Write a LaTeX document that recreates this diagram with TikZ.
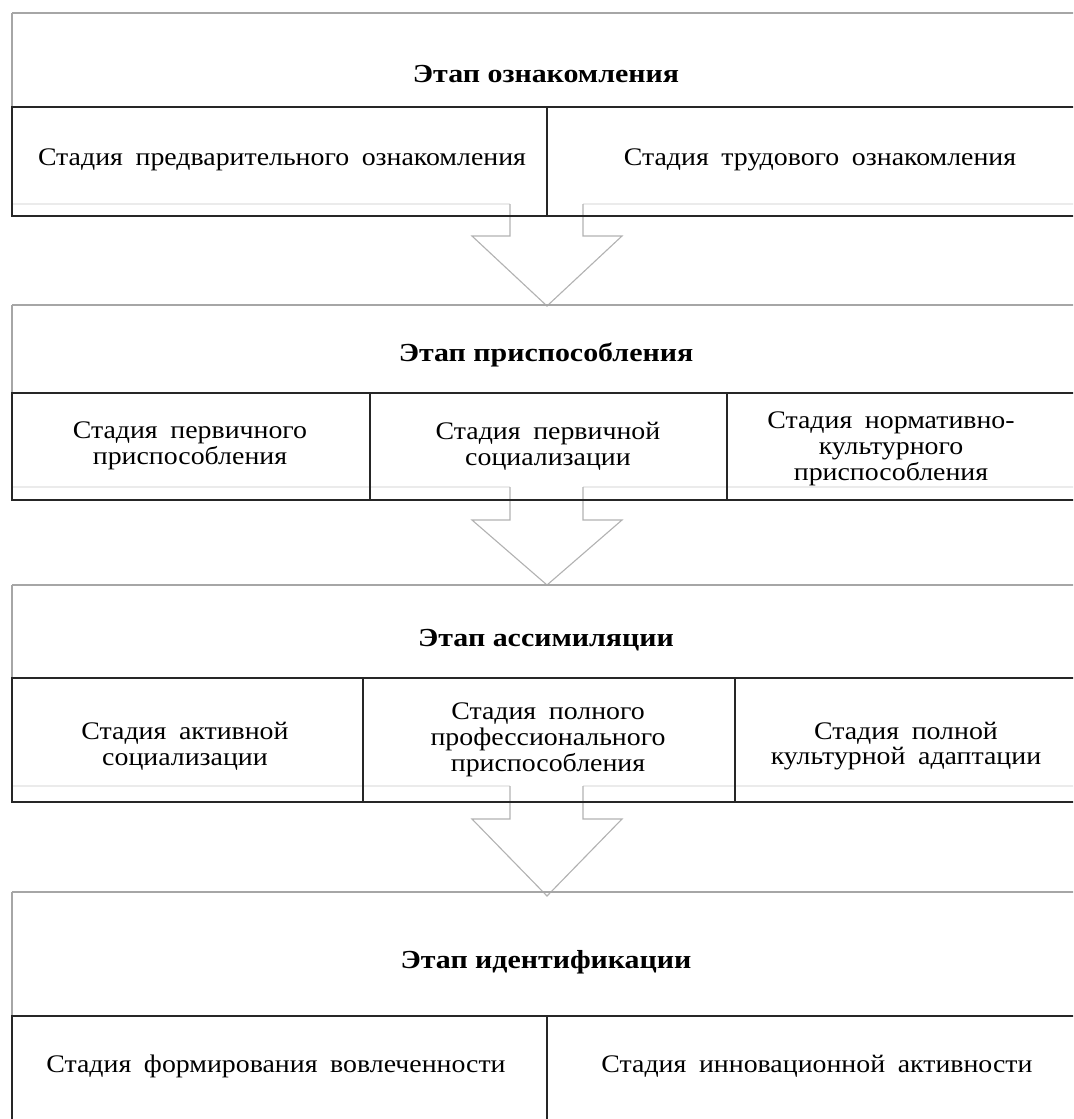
\documentclass[tikz,border=0pt]{standalone}
\usepackage{fontspec}
\setmainfont{Liberation Serif}
\newfontfamily\stagefont{Liberation Serif}[FakeStretch=1.1]
\newfontfamily\phasefont{Liberation Serif}[FakeStretch=1.15]
\usetikzlibrary{positioning}

\newcommand\wgap{\hspace{0.5em}}

\begin{document}
\begin{tikzpicture}[x=0.025cm, y=-0.025cm,
    stagetext/.style={font=\stagefont\fontsize{18}{18.4}\selectfont, align=center, inner sep=0pt},
    phasetext/.style={font=\phasefont\fontsize{18.5}{18.4}\selectfont\bfseries, inner sep=0pt},
    cellrule/.style={black!85, line width=1.3pt},
    toprule/.style={black!35, line width=1.3pt},
    faintrule/.style={black!8, line width=0.8pt},
    blockarrow/.style={black!30, line width=0.8pt, line join=miter}]
    \useasboundingbox (0,0) rectangle (1073,1119);

    \begin{scope}
    \clip (0,0) rectangle (1073,1119);

    % faint frame lines and block arrows between the phases
    \foreach \f/\w/\t in {204/236/306, 487/520/585, 786/819/896} {
        \draw[faintrule] (12,\f) -- (510,\f) (583,\f) -- (1090,\f);
        \draw[blockarrow] (510,\f) -- (510,\w) -- (472,\w) -- (547,\t)
            -- (622,\w) -- (583,\w) -- (583,\f);
    }

    % table frames: top T, header bottom H, row bottom B
    \foreach \T/\H/\B in {13/107/216, 305/393/500, 585/678/802, 892/1016/1130} {
        \draw[toprule] (12,\T) -- (1090,\T);
        \draw[toprule] (12,\T) -- (12,\H);
        \draw[cellrule] (1090,\H) -- (12,\H) -- (12,\B) -- (1090,\B);
    }

    % column dividers
    \draw[cellrule] (547,107) -- (547,216);
    \draw[cellrule] (370,393) -- (370,500) (727,393) -- (727,500);
    \draw[cellrule] (363,678) -- (363,802) (735,678) -- (735,802);
    \draw[cellrule] (547,1016) -- (547,1130);
    \end{scope}

    % phase 1
    \node[phasetext] (p1) at (546,74) {Этап ознакомления};
    \node[stagetext] (s11) at (282,160) {Стадия\wgap предварительного\wgap ознакомления};
    \node[stagetext] (s12) at (820,160) {Стадия\wgap трудового\wgap ознакомления};

    % phase 2
    \node[phasetext] (p2) at (546,355) {Этап приспособления};
    \node[stagetext] (s21) at (190,446) {Стадия\wgap первичного\\приспособления};
    \node[stagetext] (s22) at (548,446) {Стадия\wgap первичной\\социализации};
    \node[stagetext] (s23) at (891,449) {Стадия\wgap нормативно-\\культурного\\приспособления};

    % phase 3
    \node[phasetext] (p3) at (546,640) {Этап ассимиляции};
    \node[stagetext] (s31) at (185,746) {Стадия\wgap активной\\социализации};
    \node[stagetext] (s32) at (548,740) {Стадия\wgap полного\\профессионального\\приспособления};
    \node[stagetext] (s33) at (906,746) {Стадия\wgap полной\\культурной\wgap адаптации};

    % phase 4
    \node[phasetext] (p4) at (546,962) {Этап идентификации};
    \node[stagetext] (s41) at (276,1066) {Стадия\wgap формирования\wgap вовлеченности};
    \node[stagetext] (s42) at (817,1066) {Стадия\wgap инновационной\wgap активности};
\end{tikzpicture}
\end{document}
